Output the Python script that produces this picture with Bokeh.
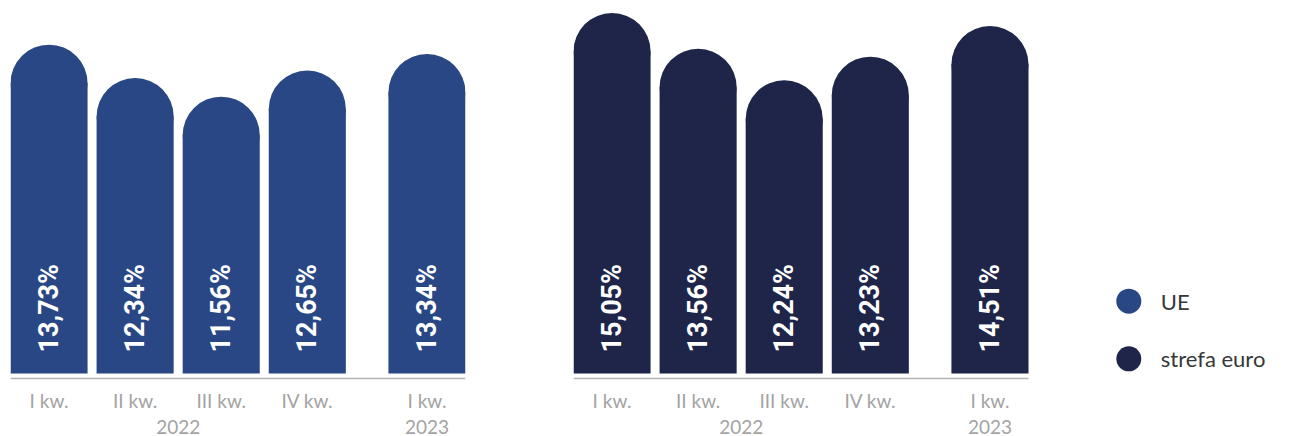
import math
from bokeh.plotting import figure
from bokeh.models import Range1d, FixedTicker, LinearAxis, ColumnDataSource
from bokeh.layouts import row
from bokeh.core.properties import value
from bokeh.embed import file_html
from bokeh.resources import INLINE

# ---------------- data ----------------
quarters = ["I kw.", "II kw.", "III kw.", "IV kw.", "I kw."]
years = ["2022", "2022", "2022", "2022", "2023"]
ue = [13.73, 12.34, 11.56, 12.65, 13.34]
euro = [15.05, 13.56, 12.24, 13.23, 14.51]
series_names = ["UE", "strefa euro"]
colors = ["#294785", "#1e2548"]

# ---------------- layout constants (pixels) ----------------
FIG_H = 436
TOP = 10
BOTTOM = 56
FRAME_H = FIG_H - TOP - BOTTOM      # frame: page y 10 .. 380
PX_PER_UNIT = 23.95                 # vertical scale
ZERO_ABOVE_FRAME_BOTTOM = 7         # bars start 7px above frame bottom
BASELINE_ABOVE_FRAME_BOTTOM = 2     # grey baseline
BARS_W = 455                        # width occupied by the bars
BAR_W = 0.8953
YEAR_GAP = 0.39
LABEL_UP_PX = 21

VALUE_FONT = "Roboto"
TEXT_FONT = "Lato"
GRAY = "#a3a3a3"
LINE_GRAY = "#b3b3b3"

# x positions: unit pitch, extra gap between years
xs = []
pos = 0.0
prev = None
for yr in years:
    if prev is not None:
        pos += 1 + (YEAR_GAP if yr != prev else 0)
    xs.append(pos)
    prev = yr

x0 = xs[0] - BAR_W / 2
x1 = xs[-1] + BAR_W / 2
PX_PER_X = BARS_W / (x1 - x0)
BAR_PX = BAR_W * PX_PER_X
R_DATA = (BAR_PX / 2) / PX_PER_UNIT
y0 = -ZERO_ABOVE_FRAME_BOTTOM / PX_PER_UNIT
y1 = y0 + FRAME_H / PX_PER_UNIT
base_y = y0 + BASELINE_ABOVE_FRAME_BOTTOM / PX_PER_UNIT

year_names = list(dict.fromkeys(years))
year_xs = []
for yr in year_names:
    sel = [x for x, y in zip(xs, years) if y == yr]
    year_xs.append(sum(sel) / len(sel))


def fmt(v):
    return f"{v:.2f}".replace(".", ",") + "%"


def panel(vals, color, width, border_left, border_right):
    frame_w = width - border_left - border_right
    p = figure(width=width, height=FIG_H,
               x_range=Range1d(x0, x0 + frame_w / PX_PER_X),
               y_range=Range1d(y0, y1),
               output_backend="svg", toolbar_location=None,
               y_axis_location=None,
               min_border_left=border_left, min_border_right=border_right,
               min_border_top=TOP, min_border_bottom=BOTTOM)
    p.outline_line_color = None
    p.grid.visible = False

    src = ColumnDataSource(dict(
        x=xs,
        top=[v - R_DATA for v in vals],
        label=[fmt(v) for v in vals],
    ))
    p.vbar(x="x", top="top", bottom=0, width=BAR_W, source=src,
           fill_color=color, line_color=None)
    p.scatter(x="x", y="top", size=BAR_PX, marker="circle", source=src,
              fill_color=color, line_color=None)
    p.text(x="x", y=LABEL_UP_PX / PX_PER_UNIT, text="label", source=src,
           angle=math.pi / 2, text_align="left", text_baseline="middle",
           text_color="white", text_font=value(VALUE_FONT),
           text_font_size="27px", text_font_style="bold")

    # grey baseline under the bars
    p.segment(x0=[x0], x1=[x1], y0=[base_y], y1=[base_y],
              line_color=LINE_GRAY, line_width=1.5)

    ax = p.xaxis[0]
    ax.ticker = FixedTicker(ticks=xs)
    ax.major_label_overrides = {x: q for x, q in zip(xs, quarters)}
    ax.axis_line_color = None
    ax.major_tick_line_color = None
    ax.minor_tick_line_color = None
    ax.major_tick_out = 0
    ax.major_tick_in = 0
    ax.major_label_standoff = 8
    ax.major_label_text_font = TEXT_FONT
    ax.major_label_text_font_size = "19px"
    ax.major_label_text_color = GRAY

    yax = LinearAxis(ticker=FixedTicker(ticks=year_xs),
                     major_label_overrides={x: y for x, y in zip(year_xs, year_names)},
                     axis_line_color=None, major_tick_line_color=None,
                     minor_tick_line_color=None, major_tick_out=0, major_tick_in=0,
                     major_label_standoff=5,
                     major_label_text_font=TEXT_FONT,
                     major_label_text_font_size="19px",
                     major_label_text_color=GRAY)
    p.add_layout(yax, "below")
    return p


p1 = panel(ue, colors[0], 573, 10, 108)
p2 = panel(euro, colors[1], 716, 0, 0)

# legend drawn inside the right panel (offsets in pixels from its frame)
LEG_X_PX = 555.3        # circle centre, from the frame's left edge
LEG_Y0_PX = 72.3        # first circle centre, above the zero line
LEG_DY_PX = 57.6
leg_src = ColumnDataSource(dict(
    x=[x0 + LEG_X_PX / PX_PER_X] * len(series_names),
    y=[(LEG_Y0_PX - i * LEG_DY_PX) / PX_PER_UNIT for i in range(len(series_names))],
    name=series_names,
    color=colors,
))
p2.scatter(x="x", y="y", size=25, marker="circle", fill_color="color",
           line_color=None, source=leg_src)
p2.text(x="x", y="y", text="name", x_offset=32, source=leg_src,
        text_align="left", text_baseline="middle", text_color="#383838",
        text_font=value(TEXT_FONT), text_font_size="22px")

layout = row(p1, p2, spacing=0)
open("out.html", "w").write(file_html(layout, INLINE))
